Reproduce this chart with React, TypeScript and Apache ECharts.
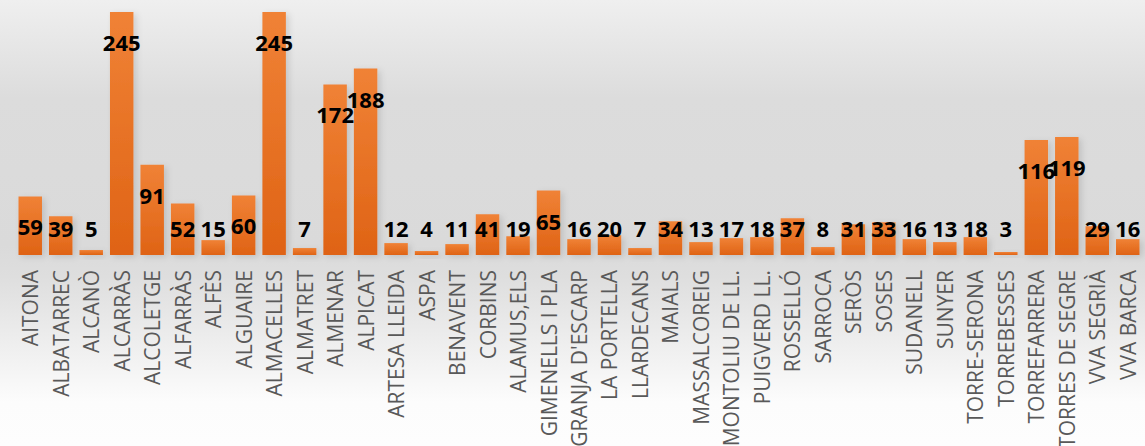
import React, { useEffect, useRef } from "react";
import * as echarts from "echarts";

const categories = [
  "AITONA", "ALBATARREC", "ALCANÒ", "ALCARRÀS", "ALCOLETGE", "ALFARRÀS", "ALFÈS", "ALGUAIRE",
  "ALMACELLES", "ALMATRET", "ALMENAR", "ALPICAT", "ARTESA LLEIDA", "ASPA", "BENAVENT", "CORBINS",
  "ALAMUS,ELS", "GIMENELLS I PLA", "GRANJA D'ESCARP", "LA PORTELLA", "LLARDECANS", "MAIALS",
  "MASSALCOREIG", "MONTOLIU DE LL.", "PUIGVERD LL.", "ROSSELLÓ", "SARROCA", "SERÒS", "SOSES",
  "SUDANELL", "SUNYER", "TORRE-SERONA", "TORREBESSES", "TORREFARRERA", "TORRES DE SEGRE",
  "VVA SEGRIÀ", "VVA BARCA",
];

const values = [
  59, 39, 5, 245, 91, 52, 15, 60, 245, 7, 172, 188, 12, 4, 11, 41, 19, 65, 16, 20, 7, 34, 13,
  17, 18, 37, 8, 31, 33, 16, 13, 18, 3, 116, 119, 29, 16,
];

export default function App() {
  const ref = useRef<HTMLDivElement>(null);
  useEffect(() => {
    document.body.style.margin = "0";
    const chart = echarts.init(ref.current!, undefined, { renderer: "svg" });
    const labelFont = {
      fontFamily: "Noto Sans",
      fontWeight: "bold" as const,
      fontSize: 22,
      color: "#000",
    };
    chart.setOption({
      animation: false,
      backgroundColor: new echarts.graphic.LinearGradient(0, 0, 0, 1, [
        { offset: 0, color: "#efefef" },
        { offset: 0.22, color: "#dcdcdc" },
        { offset: 0.55, color: "#dadada" },
        { offset: 0.62, color: "#dedede" },
        { offset: 0.9, color: "#fcfcfc" },
        { offset: 1, color: "#fdfdfd" },
      ]),
      grid: {
        left: 15,
        right: 2,
        top: 12,
        bottom: 191,
        containLabel: false,
        outerBoundsMode: "none",
      },
      xAxis: {
        type: "category",
        data: categories,
        axisLine: { show: false },
        axisTick: { show: false },
        axisLabel: {
          rotate: 90,
          interval: 0,
          margin: 15,
          color: "#595959",
          fontFamily: "Open Sans",
          fontSize: 21,
        },
      },
      yAxis: {
        type: "value",
        min: 0,
        max: 245,
        show: false,
        splitLine: { show: false },
      },
      series: [
        {
          type: "bar",
          barCategoryGap: "23%",
          itemStyle: {
            color: new echarts.graphic.LinearGradient(0, 0, 0, 1, [
              { offset: 0, color: "#f08236" },
              { offset: 1, color: "#df6315" },
            ]),
            shadowColor: "rgba(0,0,0,0.12)",
            shadowBlur: 6,
            shadowOffsetX: 3,
            shadowOffsetY: 2,
          },
          data: values.map((v) => ({
            value: v,
            label:
              v >= 58
                ? { show: true, position: "insideTop", distance: 19, ...labelFont }
                : { show: true, position: "insideBottom", distance: 16, ...labelFont },
          })),
        },
      ],
    });
    return () => chart.dispose();
  }, []);
  return <div ref={ref} style={{ width: 1145, height: 446 }} />;
}
